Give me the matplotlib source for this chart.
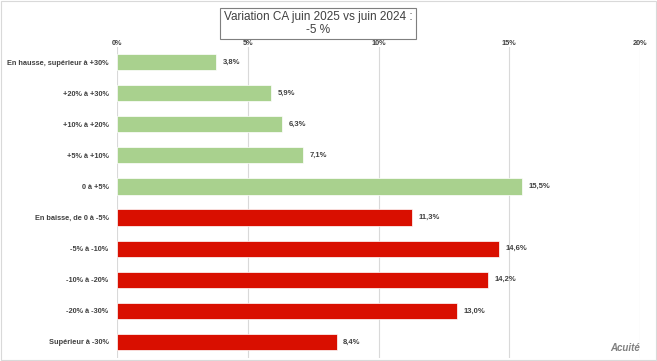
import matplotlib.pyplot as plt
import numpy as np

plt.rcParams["font.family"] = ["Liberation Sans", "DejaVu Sans"]

categories = ["En hausse, supérieur à +30%", "+20% à +30%", "+10% à +20%",
              "+5% à +10%", "0 à +5%", "En baisse, de 0 à -5%", "-5% à -10%",
              "-10% à -20%", "-20% à -30%", "Supérieur à -30%"]
values = [3.8, 5.9, 6.3, 7.1, 15.5, 11.3, 14.6, 14.2, 13.0, 8.4]
colors = ["#A9D18E"] * 5 + ["#D90F00"] * 5
xticks = [0, 5, 10, 15, 20]

fig = plt.figure(figsize=(6.57, 3.61), dpi=100)
ax = fig.add_axes([117 / 657, 1 - 357.5 / 361, (640 - 117) / 657, 311 / 361])

y = np.arange(len(categories))
ax.barh(y, values, height=0.52, color=colors, edgecolor="white", linewidth=0.5, zorder=3)
ax.set_ylim(len(categories) - 0.5, -0.5)
ax.set_xlim(0, 20)
ax.set_xticks(xticks)
ax.set_xticklabels([f"{t}%" for t in xticks])
ax.xaxis.tick_top()
ax.tick_params(axis="x", length=0, labelsize=5.3, colors="#404040", pad=-0.5)
ax.tick_params(axis="y", length=0, labelsize=5.3, colors="#404040", pad=6)
for lbl in ax.get_xticklabels() + ax.get_yticklabels():
    lbl.set_fontweight("bold")
ax.set_yticks(y)
ax.set_yticklabels(categories)
ax.grid(axis="x", color="#D9D9D9", linewidth=0.8, zorder=0)
for s in ax.spines.values():
    s.set_visible(False)

for yi, v in zip(y, values):
    ax.text(v + 0.25, yi, f"{v:.1f}%".replace(".", ","), va="center", ha="left",
            fontsize=5.5, fontweight="bold", color="#404040")

fig.text(318 / 657, 1 - 23.5 / 361, "Variation CA juin 2025 vs juin 2024 :\n-5 %",
         ha="center", va="center", fontsize=8.5, color="#404040", linespacing=1.15,
         zorder=10,
         bbox=dict(boxstyle="square,pad=0.28", facecolor="white", edgecolor="#7F7F7F", linewidth=0.8))

fig.text(640 / 657, 1 - 348 / 361, "Acuité", ha="right", va="center",
         fontsize=7, fontweight="bold", fontstyle="italic", color="#7F7F7F")

fig.patches.append(plt.Rectangle((0.002, 0.003), 0.996, 0.994, transform=fig.transFigure,
                                 fill=False, edgecolor="#D9D9D9", linewidth=0.8))

fig.savefig("out.png", dpi=100)
